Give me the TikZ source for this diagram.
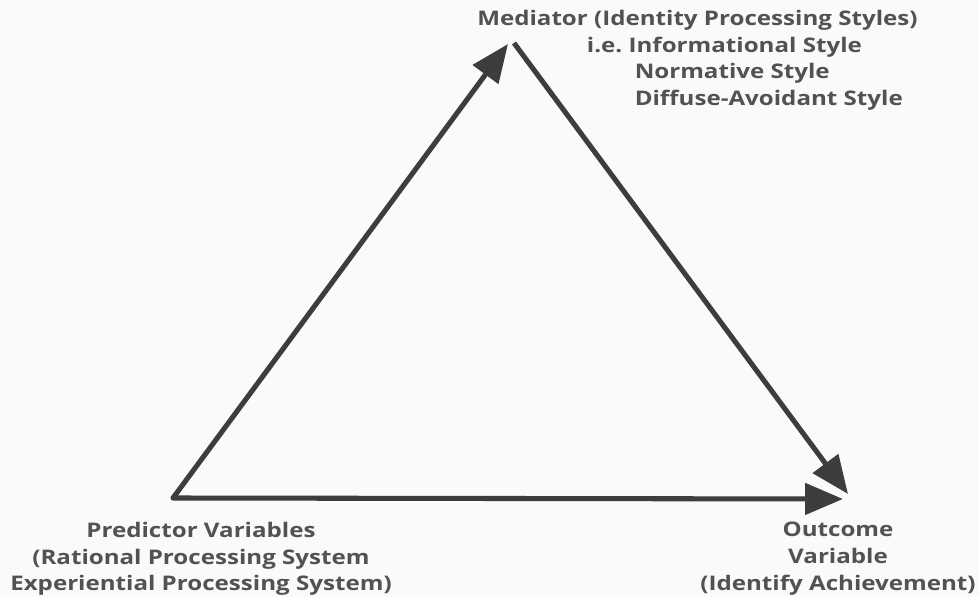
\documentclass[tikz,border=0pt]{standalone}
\usepackage{fontspec}
\newfontfamily\labelfont[FakeStretch=1.2]{Open Sans}
\usetikzlibrary{arrows.meta}

\begin{document}
\begin{tikzpicture}[x=0.025cm,y=-0.025cm,
  label/.style={text=black!68,font=\labelfont\bfseries\fontsize{14.3}{18.9}\selectfont,inner sep=0pt},
  link/.style={draw=black!76,line width=3.6pt,-{Triangle[length=27pt,width=22pt]}}]
\fill[black!2] (0,0) rectangle (979,597);
\useasboundingbox (0,0) rectangle (979,597);

\coordinate (P) at (173,498);
\coordinate (M1) at (508,44);
\coordinate (M2) at (514,43);
\coordinate (O1) at (848,494);
\coordinate (O2) at (843,499);

\node[label,align=left,anchor=north west] (med) at (477,10) {Mediator (Identity Processing Styles)\\
  \hspace*{78pt}i.e.\ Informational Style\\
  \hspace*{112pt}Normative Style\\
  \hspace*{112pt}Diffuse-Avoidant Style};
\node[label,align=center,anchor=north] (pred) at (201,522) {Predictor Variables\\(Rational Processing System\\Experiential Processing System)};
\node[label,align=center,anchor=north] (out) at (838,522) {Outcome\\Variable\\(Identify Achievement)};

\draw[link] (P) -- (M1);
\draw[link] (M2) -- (O1);
\draw[link,line cap=round] (P) -- (O2);
\end{tikzpicture}
\end{document}
